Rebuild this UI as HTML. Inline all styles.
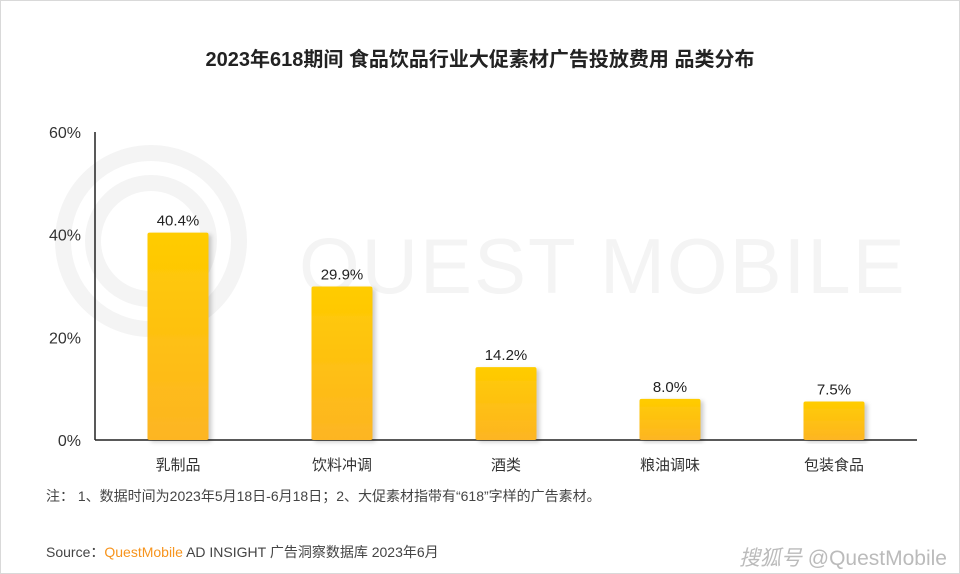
<!DOCTYPE html>
<html><head><meta charset="utf-8"><style>
body{margin:0;background:#fff;}
#wrap{position:relative;width:958px;height:572px;border:1px solid #d9d9d9;background:#fff;overflow:hidden;font-family:"Liberation Sans","Noto Sans CJK SC",sans-serif;}
.t{position:absolute;white-space:nowrap;color:#333;}
</style></head><body>
<div id="wrap">
<div class="t" style="left:0;width:958px;text-align:center;top:42px;font-size:20px;color:#222;font-weight:bold;">2023年618期间 食品饮品行业大促素材广告投放费用 品类分布</div>
<svg id="chart" width="958" height="572" style="position:absolute;left:0;top:0">
<defs>
<linearGradient id="g" x1="0" y1="0" x2="0" y2="1"><stop offset="0" stop-color="#ffcc00"/><stop offset="1" stop-color="#fdb523"/></linearGradient>
<filter id="sh" x="-20%" y="-5%" width="150%" height="115%"><feDropShadow dx="3" dy="2" stdDeviation="2" flood-color="#000" flood-opacity="0.2"/></filter>
</defs>
<g fill="none" stroke="#f4f4f4" stroke-width="16">
<circle cx="150" cy="240" r="88"/><circle cx="150" cy="240" r="58"/>
<text x="298" y="292" fill="#f4f4f4" stroke="none" font-size="78" font-family="Liberation Sans" letter-spacing="2">QUEST MOBILE</text>
</g>
<g id="plot"></g>
</svg>
<div class="t" style="left:45px;top:485px;font-size:14px;color:#444;">注： 1、数据时间为2023年5月18日-6月18日；2、大促素材指带有“618”字样的广告素材。</div>
<div class="t" style="left:45px;top:541px;font-size:14px;color:#444;">Source：<span style="color:#f7941d">QuestMobile</span> AD INSIGHT 广告洞察数据库 2023年6月</div>
<div class="t" style="right:12px;top:541px;font-size:21px;color:#bbb;font-style:italic;">搜狐号 <span style="font-style:normal">@QuestMobile</span></div>
</div>
<script>
const categories=["乳制品","饮料冲调","酒类","粮油调味","包装食品"];
const values=[40.4,29.9,14.2,8.0,7.5];
const ticks=[0,20,40,60];
const NS="http://www.w3.org/2000/svg";
const g=document.getElementById('plot');
const y0=439,pxPer=308/60,x0=94,xEnd=916,first=177,step=164,bw=61;
const y=v=>y0-v*pxPer, x=i=>first+i*step;
function mk(t,a){const e=document.createElementNS(NS,t);for(const k in a)e.setAttribute(k,a[k]);g.appendChild(e);return e;}
let ax=mk('line',{x1:x0,y1:131,x2:x0,y2:y0,stroke:'#222','stroke-width':1.5});


let bx=mk('line',{x1:x0,y1:y0,x2:xEnd,y2:y0,stroke:'#222','stroke-width':1.5});


ticks.forEach(t=>{const e=mk('text',{x:80,y:y(t)+6,'text-anchor':'end','font-size':16,fill:'#333','font-family':'Liberation Sans'});e.textContent=t+'%';

});
values.forEach((v,i)=>{
const r=mk('rect',{x:x(i)-bw/2,y:y(v),width:bw,height:y0-y(v),fill:'url(#g)',rx:2,filter:'url(#sh)'});


const l=mk('text',{x:x(i),y:y(v)-7,'text-anchor':'middle','font-size':15,fill:'#222','font-family':'Liberation Sans'});l.textContent=v.toFixed(1)+'%';


const c=mk('text',{x:x(i),y:469,'text-anchor':'middle','font-size':15,fill:'#333','font-family':'Liberation Sans, Noto Sans CJK SC, sans-serif'});c.textContent=categories[i];


});
</script>
</body></html>
